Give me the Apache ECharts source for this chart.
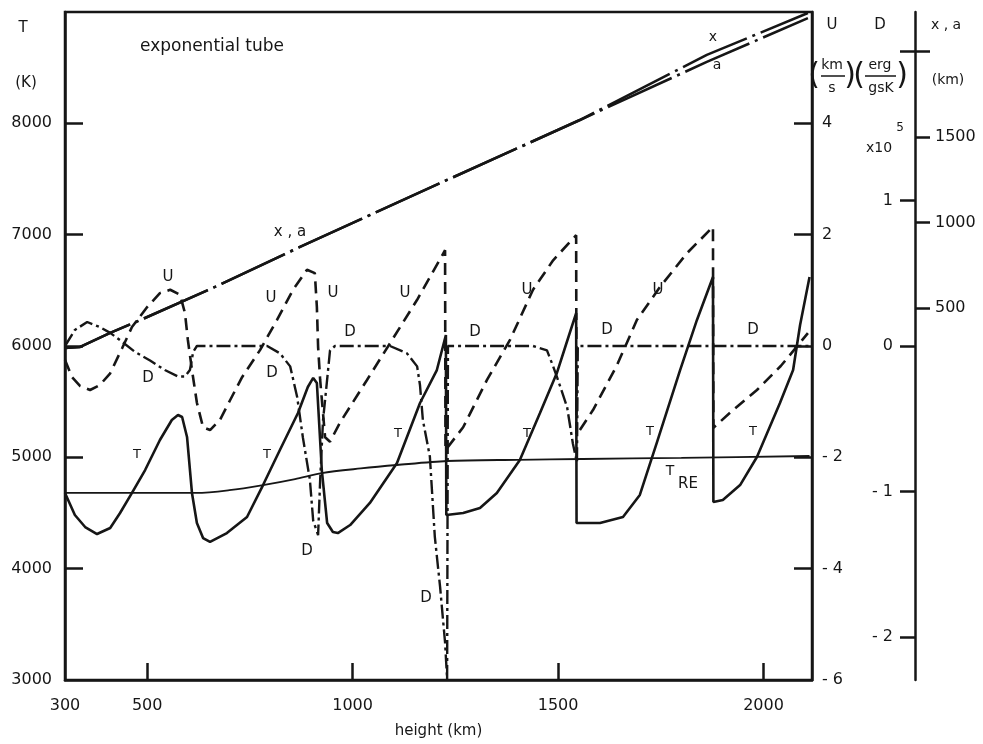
<!DOCTYPE html>
<html><head><meta charset="utf-8">
<script src="https://cdn.jsdelivr.net/npm/echarts@6/dist/echarts.min.js"></script>
<style>html,body{margin:0;padding:0;background:#fff}#c{width:983px;height:744px}</style>
</head><body><div id="c"></div>
<script>
// ---- axis ticks ----
const xTickLabels = [300, 500, 1000, 1500, 2000];
const xTickMarks = [500, 1000, 1500, 2000];
const tTickLabels = [3000, 4000, 5000, 6000, 7000, 8000];
const tTickMarks = [4000, 5000, 6000, 7000, 8000];
const uTickLabels = [-6, -4, -2, 0, 2, 4];
const uTickMarks = [-4, -2, 0, 2, 4];
const dTickLabels = [-2, -1, 0, 1];
const kmTickLabels = [500, 1000, 1500];
const kmTickMarks = [500, 1000, 1500, 2000];

// ---- T (K) ----
const heightT = [300,324,349,378,410,434,463,495,531,560,575,585,597,609,621,636,653,694,743,782,823,867,891,904,913,925,938,952,964,994,1042,1108,1164,1205,1227,1228,1269,1310,1351,1407,1456,1497,1519,1544,1545,1602,1658,1699,1741,1797,1838,1877,1878,1901,1943,1984,2040,2072,2089,2112];
const tempT   = [4680,4482,4374,4311,4365,4500,4680,4886,5156,5335,5380,5362,5183,4680,4410,4275,4240,4320,4464,4751,5066,5398,5632,5713,5668,4886,4410,4329,4320,4392,4590,4949,5488,5784,6099,4482,4500,4545,4680,4976,5398,5757,6009,6296,4410,4410,4464,4662,5138,5784,6234,6620,4599,4617,4751,5003,5488,5784,6189,6620];

// ---- T_RE (K) ----
const heightTre = [300,620,700,782,860,925,1020,1108,1230,1400,1560,1800,2112];
const tempTre   = [4680,4680,4705,4751,4805,4859,4900,4931,4967,4978,4985,4995,5012];

// ---- U (km/s) ----
const heightU = [300,317,337,361,385,410,439,463,500,531,556,580,592,599,609,621,636,653,677,702,731,775,816,855,889,908,913,916,921,933,945,969,1035,1091,1157,1225,1226,1269,1327,1383,1439,1488,1544,1545,1585,1643,1692,1748,1814,1877,1878,1926,1984,2042,2108];
const velU    = [-0.25,-0.56,-0.72,-0.79,-0.70,-0.49,-0.04,0.34,0.70,0.95,1.01,0.92,0.59,0.11,-0.43,-1.02,-1.46,-1.51,-1.33,-0.97,-0.56,-0.07,0.47,1.01,1.37,1.31,0.70,-0.02,-0.61,-1.64,-1.72,-1.38,-0.61,0.05,0.83,1.72,-1.87,-1.46,-0.61,0.11,1.01,1.54,1.99,-1.60,-1.15,-0.35,0.47,1.06,1.67,2.14,-1.47,-1.15,-0.79,-0.36,0.23];

// ---- D (x10^5 erg/gsK) ----
const heightD = [300,324,354,385,410,434,470,507,543,575,592,604,612,621,767,792,823,848,865,879,896,904,916,921,928,938,945,957,1091,1132,1157,1164,1171,1188,1200,1213,1225,1230,1232,1439,1473,1488,1497,1522,1536,1546,1548,2112];
const valD    = [0,0.11,0.165,0.13,0.09,0.04,-0.04,-0.10,-0.165,-0.21,-0.21,-0.165,-0.04,0,0,0,-0.05,-0.14,-0.35,-0.63,-0.92,-1.20,-1.30,-0.92,-0.51,-0.23,-0.03,0,0,-0.05,-0.14,-0.27,-0.51,-0.76,-1.31,-1.66,-2.04,-2.29,0,0,-0.03,-0.14,-0.21,-0.42,-0.67,-0.80,0,0];

// ---- x, a (km) ----
const heightX = [300,337,410,483,665,872,1230,1553,1862,2108];
const kmX     = [266,272,354,429,623,857,1249,1599,1980,2225];
const heightA = [300,337,410,483,665,872,1230,1553,1862,2108];
const kmA     = [266,272,354,429,623,857,1249,1599,1939,2195];

const FONT = 'DejaVu Sans';
const INK = '#161616';
const zip = (a, b) => a.map((v, i) => [v, b[i]]);
const plain = v => String(v);
const signed = v => v < 0 ? '- ' + (-v) : String(v);

function txt(t, x, y, size, extra) {
  return Object.assign({
    type: 'text', x: x, y: y, silent: true,
    style: { text: t, fill: INK, font: (size || 15) + 'px "' + FONT + '"',
      align: 'center', verticalAlign: 'middle', textAlign: 'center', textVerticalAlign: 'middle' }
  }, extra || {});
}
function hline(x1, x2, y, w) {
  return { type: 'line', silent: true, shape: { x1: x1, y1: y, x2: x2, y2: y },
    style: { stroke: INK, lineWidth: w || 1.5 } };
}

const graphics = [
  txt('T', 23, 28, 15), txt('(K)', 26, 83, 15),
  txt('exponential tube', 212, 47, 17),
  txt('U', 832, 25, 15), txt('D', 880, 25, 15), txt('x , a', 946, 25, 14),
  txt('(km)', 948, 80, 14),
  txt('(', 814, 76, 30), txt('km', 832, 65, 14), hline(821, 845, 76), txt('s', 832, 88, 14), txt(')', 850, 76, 30),
  txt('(', 859, 76, 30), txt('erg', 880, 65, 14), hline(865, 896, 76), txt('gsK', 881, 88, 14), txt(')', 902, 76, 30),
  txt('x10', 879, 148, 14), txt('5', 900, 128, 12),
  // curve labels
  txt('U', 168, 277, 15), txt('U', 271, 298, 15), txt('U', 333, 293, 15), txt('U', 405, 293, 15),
  txt('U', 527, 290, 15), txt('U', 658, 290, 15),
  txt('D', 148, 378, 15), txt('D', 272, 373, 15), txt('D', 350, 332, 15), txt('D', 475, 332, 15),
  txt('D', 607, 330, 15), txt('D', 753, 330, 15), txt('D', 307, 551, 15), txt('D', 426, 598, 15),
  txt('T', 137, 455, 13), txt('T', 267, 455, 13), txt('T', 398, 434, 13), txt('T', 527, 434, 13),
  txt('T', 650, 432, 13), txt('T', 753, 432, 13),
  txt('T', 670, 471, 14), txt('RE', 688, 484, 15),
  txt('x , a', 290, 232, 15),
  txt('x', 713, 37, 14), txt('a', 717, 65, 14)
];

const chart = echarts.init(document.getElementById('c'), null, { renderer: 'canvas' });
const axisLineStyle = { color: INK, width: 2.5 };
const lbl = (extra) => Object.assign({ color: INK, fontSize: 16, fontFamily: FONT }, extra);

chart.setOption({
  animation: false,
  backgroundColor: '#fff',
  grid: { left: 65, right: 171, top: 12, bottom: 64, show: true, borderColor: INK, borderWidth: 2.5 },
  xAxis: {
    type: 'value', min: 300, max: 2118,
    axisLine: { onZero: false, lineStyle: axisLineStyle },
    axisTick: { inside: true, length: 17, lineStyle: { color: INK, width: 2.5 }, customValues: xTickMarks },
    axisLabel: lbl({ margin: 18, customValues: xTickLabels, formatter: plain }),
    splitLine: { show: false },
    name: 'height (km)', nameLocation: 'middle', nameGap: 44,
    nameTextStyle: { color: INK, fontSize: 15, fontFamily: FONT }
  },
  yAxis: [
    { // T
      type: 'value', min: 3000, max: 9000, position: 'left',
      axisLine: { show: true, onZero: false, lineStyle: axisLineStyle },
      axisTick: { inside: true, length: 18, lineStyle: { color: INK, width: 2.5 }, customValues: tTickMarks },
      axisLabel: lbl({ margin: 13, customValues: tTickLabels, formatter: plain }),
      splitLine: { show: false }
    },
    { // U
      type: 'value', min: -6, max: 6, position: 'right', offset: 0,
      axisLine: { show: true, onZero: false, lineStyle: axisLineStyle },
      axisTick: { inside: true, length: 18, lineStyle: { color: INK, width: 2.5 }, customValues: uTickMarks },
      axisLabel: lbl({ margin: 10, customValues: uTickLabels, formatter: signed }),
      splitLine: { show: false }
    },
    { // D x10^5
      type: 'value', min: -2.296, max: 2.296, position: 'right', offset: 103,
      axisLine: { show: true, onZero: false, lineStyle: axisLineStyle },
      axisTick: { inside: true, length: 15, lineStyle: { color: INK, width: 2.5 }, customValues: dTickLabels },
      axisLabel: lbl({ inside: true, margin: 22, customValues: dTickLabels, formatter: signed }),
      splitLine: { show: false }
    },
    { // x,a km
      type: 'value', min: -1676, max: 2231, position: 'right', offset: 103,
      axisLine: { show: false, onZero: false },
      axisTick: { inside: false, length: 15, lineStyle: { color: INK, width: 2.5 }, customValues: kmTickMarks },
      axisLabel: lbl({ margin: 20, customValues: kmTickLabels, formatter: plain }),
      splitLine: { show: false }
    },
    { // cross tick at 2000 km
      type: 'value', min: -1676, max: 2231, position: 'right', offset: 103,
      axisLine: { show: false, onZero: false },
      axisTick: { inside: true, length: 15, lineStyle: { color: INK, width: 2.5 }, customValues: [2000] },
      axisLabel: { show: false },
      splitLine: { show: false }
    }
  ],
  series: [
    { name: 'T', type: 'line', yAxisIndex: 0, data: zip(heightT, tempT), showSymbol: false, silent: true,
      lineStyle: { color: INK, width: 2.6 } },
    { name: 'T_RE', type: 'line', yAxisIndex: 0, data: zip(heightTre, tempTre), showSymbol: false, silent: true,
      smooth: 0.3, lineStyle: { color: INK, width: 1.8 } },
    { name: 'U', type: 'line', yAxisIndex: 1, data: zip(heightU, velU), showSymbol: false, silent: true,
      lineStyle: { color: INK, width: 2.6, type: [12, 7] } },
    { name: 'D', type: 'line', yAxisIndex: 2, data: zip(heightD, valD), showSymbol: false, silent: true,
      lineStyle: { color: INK, width: 2.4, type: [14, 4, 3, 4] } },
    { name: 'x', type: 'line', yAxisIndex: 3, data: zip(heightX, kmX), showSymbol: false, silent: true,
      lineStyle: { color: INK, width: 2.6, type: [70, 6, 3, 6] } },
    { name: 'a', type: 'line', yAxisIndex: 3, data: zip(heightA, kmA), showSymbol: false, silent: true,
      lineStyle: { color: INK, width: 2.6, type: [70, 6, 3, 6] } }
  ],
  graphic: graphics
});
</script>
</body></html>
